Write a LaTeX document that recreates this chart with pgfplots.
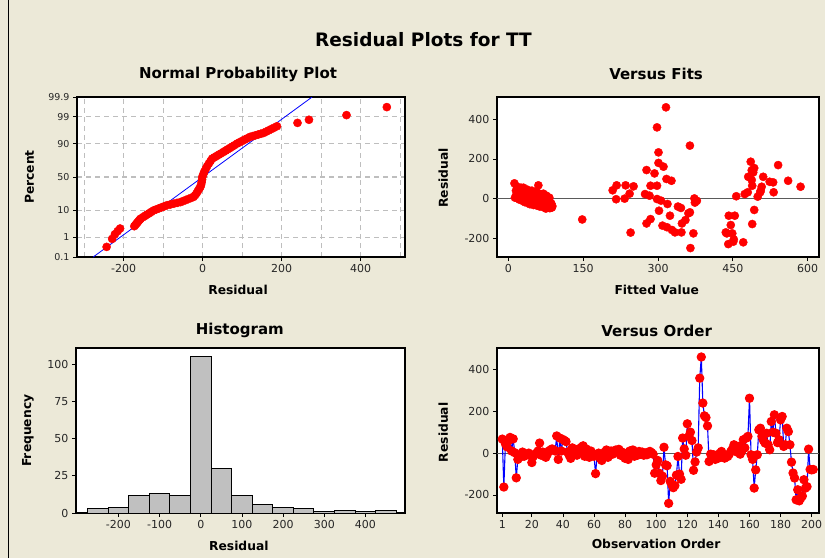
\documentclass[border=0pt]{standalone}
\usepackage{pgfplots}
\pgfplotsset{compat=1.18}
\usepackage{fontspec}
\setmainfont{DejaVu Sans}

\definecolor{bgbeige}{RGB}{236,233,216}
\definecolor{histgray}{RGB}{192,192,192}
\definecolor{gridgray}{RGB}{190,190,190}
\definecolor{mtbred}{RGB}{255,0,0}
\definecolor{mtbblue}{RGB}{0,0,255}
\definecolor{refline}{RGB}{90,90,90}

\pgfplotsset{
  mtb/.style={
    scale only axis,
    anchor=south west,
    axis background/.style={fill=white},
    axis line style={black, line width=1.2pt},
    enlargelimits=false,
    tick align=outside,
    tick pos=left,
    major tick length=4pt,
    minor tick length=0pt,
    tick style={black, line width=0.8pt},
    ticklabel style={font=\fontsize{11}{12}\selectfont, text=black!85},
    /pgf/number format/assume math mode=true,
    label style={font=\bfseries\fontsize{12.3}{14}\selectfont, anchor=center},
    every axis title/.style={at={(0.5,1)}, anchor=center,
      font=\bfseries\fontsize{15}{17}\selectfont},
  },
  dots/.style={only marks, mark=*, mark size=4.1pt,
    mark options={draw=mtbred, fill=mtbred}},
}

\begin{document}
\begin{tikzpicture}
\fill[bgbeige] (0pt,0pt) rectangle (825pt,558pt);
\draw[black, line width=1pt] (8.5pt,0pt) -- (8.5pt,558pt);
\node[font=\bfseries\fontsize{18.5}{22}\selectfont] at (423.5pt,518pt) {Residual Plots for TT};

% Normal probability plot
\begin{axis}[mtb, at={(77pt,301pt)}, width=328pt, height=160pt,
  xmin=-318, xmax=512, ymin=-3.0902, ymax=3.0902,
  xtick={-200,0,200,400}, minor xtick={-300,-100,100,300,500},
  ytick={-3.0902,-2.3263,-1.2816,0,1.2816,2.3263,3.0902},
  yticklabels={0.1,1,10,50,90,99,99.9},
  y tick label style={font=\fontsize{9.5}{10}\selectfont},
  grid=both,
  major grid style={gridgray, line width=1.2pt, dash pattern=on 5pt off 4pt},
  minor grid style={gridgray, line width=1.2pt, dash pattern=on 5pt off 4pt},
  title={Normal Probability Plot},
  title style={at={(axis description cs:0.491,1.144)}},
  xlabel={Residual}, ylabel={Percent},
  x label style={at={(axis description cs:0.491,-0.206)}},
  y label style={at={(axis description cs:-0.145,0.5)}},
]
\addplot[mtbblue, line width=0.8pt] coordinates {(-277,-3.09) (277,3.09)};
\addplot[dots] table {
r z
-243 -2.70
-229 -2.39
-222 -2.21
-215 -2.09
-209 -1.99
-173 -1.90
-170.2 -1.85
-167.5 -1.80
-164.7 -1.75
-162 -1.70
-159.2 -1.65
-157 -1.61
-150.8 -1.55
-145.7 -1.50
-140.5 -1.45
-135.3 -1.40
-130.2 -1.35
-124 -1.29
-117.2 -1.25
-110.4 -1.21
-103.6 -1.17
-96.8 -1.13
-90 -1.09
-81.5 -1.06
-73 -1.03
-64.5 -1.00
-56 -0.97
-49.4 -0.93
-42.8 -0.89
-36.2 -0.85
-29.6 -0.81
-23 -0.77
-19 -0.70
-15 -0.62
-12 -0.54
-9 -0.46
-6 -0.39
-4 -0.30
-2.5 -0.20
-1.5 -0.10
-1 0.00
1.5 0.10
4 0.20
8 0.32
11.4 0.42
15.7 0.52
20.1 0.62
24 0.71
29.6 0.76
35.2 0.81
40.7 0.86
46.3 0.91
53 0.97
58.3 1.02
63.5 1.07
69 1.12
74.3 1.17
79.6 1.22
87 1.29
93.3 1.34
99.7 1.39
106 1.44
112.4 1.49
120 1.55
126.8 1.58
133.6 1.61
140.4 1.64
147.2 1.67
154 1.70
160.5 1.75
167 1.80
173.6 1.85
180.1 1.90
188 1.96
240 2.09
269 2.21
364 2.39
466 2.70
};
\end{axis}

% Versus fits
\begin{axis}[mtb, at={(497pt,301pt)}, width=322pt, height=160pt,
  xmin=-23, xmax=623, ymin=-294, ymax=512,
  xtick={0,150,300,450,600}, ytick={-200,0,200,400},
  title={Versus Fits},
  title style={at={(axis description cs:0.494,1.144)}},
  xlabel={Fitted Value}, ylabel={Residual},
  x label style={at={(axis description cs:0.496,-0.206)}},
  y label style={at={(axis description cs:-0.167,0.494)}},
]
\addplot[refline, line width=1pt] coordinates {(-23,0) (623,0)};
\addplot[dots] table {
f r
12 77
13 5
15 40
16 20
17 60
18 2
19 30
20 55
21 10
22 -5
23 45
24 25
25 55
26 0
27 15
28 35
29 -12
30 55
31 20
32 5
33 -18
34 40
35 30
36 -5
37 10
38 45
39 -22
40 20
41 0
42 35
43 -28
44 10
45 25
46 -15
47 40
48 -5
49 15
50 -32
51 30
52 5
53 -20
54 20
55 -10
56 35
57 -35
58 10
59 0
60 67
61 -25
62 25
63 -40
64 15
65 -15
66 5
67 -38
68 20
69 -30
70 25
71 -5
72 -45
73 10
74 -20
75 -50
76 15
77 -35
78 0
79 -45
80 -10
81 -30
82 5
83 -48
84 -20
85 -40
86 -25
87 -45
88 -38
148 -105
209 42
217 67
216 -3
235 67
233 0
243 25
251 62
245 -171
274 23
277 144
283 15
285 65
277 -125
285 -103
293 127
298 359
316 460
301 233
301 180
311 161
298 65
317 99
327 90
298 -2
306 -10
319 -27
324 -86
302 -61
309 -136
318 -144
328 -158
334 -170
347 -170
348 -125
355 -108
361 -74
364 -69
340 -40
346 -47
364 267
365 -249
371 -175
373 1
378 -11
374 -20
436 -170
438 -175
442 -86
446 -133
449 -175
441 -229
451 -217
454 -86
452 -205
457 12
471 -220
474 23
480 32
481 110
486 186
488 94
488 143
489 65
491 132
493 154
493 -57
489 -128
500 10
505 32
506 40
508 60
511 110
524 85
531 82
532 32
541 169
561 90
586 60
};
\end{axis}

% Histogram
\begin{axis}[mtb, at={(76pt,45pt)}, width=329pt, height=165pt,
  xmin=-303, xmax=496, ymin=0, ymax=110.8,
  xtick={-200,-100,0,100,200,300,400}, ytick={0,25,50,75,100},
  title={Histogram},
  title style={at={(axis description cs:0.498,1.105)}},
  xlabel={Residual}, ylabel={Frequency},
  x label style={at={(axis description cs:0.495,-0.2)}},
  y label style={at={(axis description cs:-0.146,0.499)}},
]
\addplot[ybar interval, fill=histgray, draw=black, line width=1pt] coordinates {
(-275,3) (-225,4) (-175,12) (-125,13) (-75,12) (-25,105) (25,30) (75,12)
(125,6) (175,4) (225,3) (275,1) (325,2) (375,1) (425,2) (475,2)
};
\end{axis}

% Versus order
\begin{axis}[mtb, at={(497pt,45pt)}, width=322pt, height=165pt,
  xmin=-2.4, xmax=204.7, ymin=-286, ymax=502,
  xtick={1,20,40,60,80,100,120,140,160,180,200}, ytick={-200,0,200,400},
  title={Versus Order},
  title style={at={(axis description cs:0.496,1.105)}},
  xlabel={Observation Order}, ylabel={Residual},
  x label style={at={(axis description cs:0.494,-0.19)}},
  y label style={at={(axis description cs:-0.167,0.489)}},
]
\addplot[refline, line width=1pt] coordinates {(-2.4,0) (204.7,0)};
\addplot[mtbblue, line width=1.1pt, mark=*, mark size=4.1pt,
  mark options={draw=mtbred, fill=mtbred}] table {
obs r
1 67
2 -162
3 45
4 30
5 60
6 75
7 10
8 68
9 2
10 -118
11 -30
12 -20
13 -5
14 5
15 -15
16 -10
17 -5
18 0
19 -10
20 -45
21 -15
22 -5
23 0
24 10
25 48
26 -10
27 5
28 -10
29 -20
30 -5
31 10
32 15
33 20
34 15
35 10
36 82
37 -30
38 72
39 10
40 65
41 60
42 55
43 5
44 -10
45 -25
46 25
47 5
48 15
49 -10
50 20
51 10
52 28
53 35
54 -15
55 20
56 5
57 -20
58 10
59 -5
60 -15
61 -98
62 -10
63 0
64 -25
65 -35
66 -10
67 5
68 15
69 -20
70 0
71 10
72 -5
73 5
74 15
75 12
76 18
77 -10
78 5
79 0
80 -25
81 -20
82 -30
83 10
84 12
85 15
86 -15
87 5
88 -10
89 8
90 -5
91 5
92 -10
93 0
94 -8
95 5
96 8
97 2
98 -5
99 -96
100 -56
101 -35
102 -96
103 -131
104 -110
105 28
106 -56
107 -60
108 -240
109 -135
110 -150
111 -165
112 -155
113 -105
114 -16
115 -100
116 -125
117 72
118 20
119 -10
120 140
121 80
122 100
123 60
124 -82
125 -42
126 5
127 25
128 358
129 459
130 239
131 178
132 170
133 130
134 -40
135 -5
136 -20
137 -8
138 -30
139 -15
140 -24
141 0
142 8
143 -20
144 -24
145 -10
146 -16
147 -5
148 8
149 20
150 40
151 15
152 5
153 32
154 -5
155 8
156 64
157 25
158 72
159 80
160 262
161 -8
162 -30
163 -167
164 -80
165 -8
166 111
167 119
168 80
169 60
170 48
171 95
172 40
173 16
174 151
175 100
176 183
177 95
178 50
179 64
180 159
181 175
182 32
183 40
184 119
185 103
186 40
187 -43
188 -95
189 -119
190 -223
191 -175
192 -228
193 -215
194 -205
195 -127
196 -167
197 -160
198 19
199 -78
200 -80
201 -78
};
\end{axis}

\pgfresetboundingbox
\path[use as bounding box] (0pt,0pt) rectangle (825pt,558pt);
\end{tikzpicture}
\end{document}
